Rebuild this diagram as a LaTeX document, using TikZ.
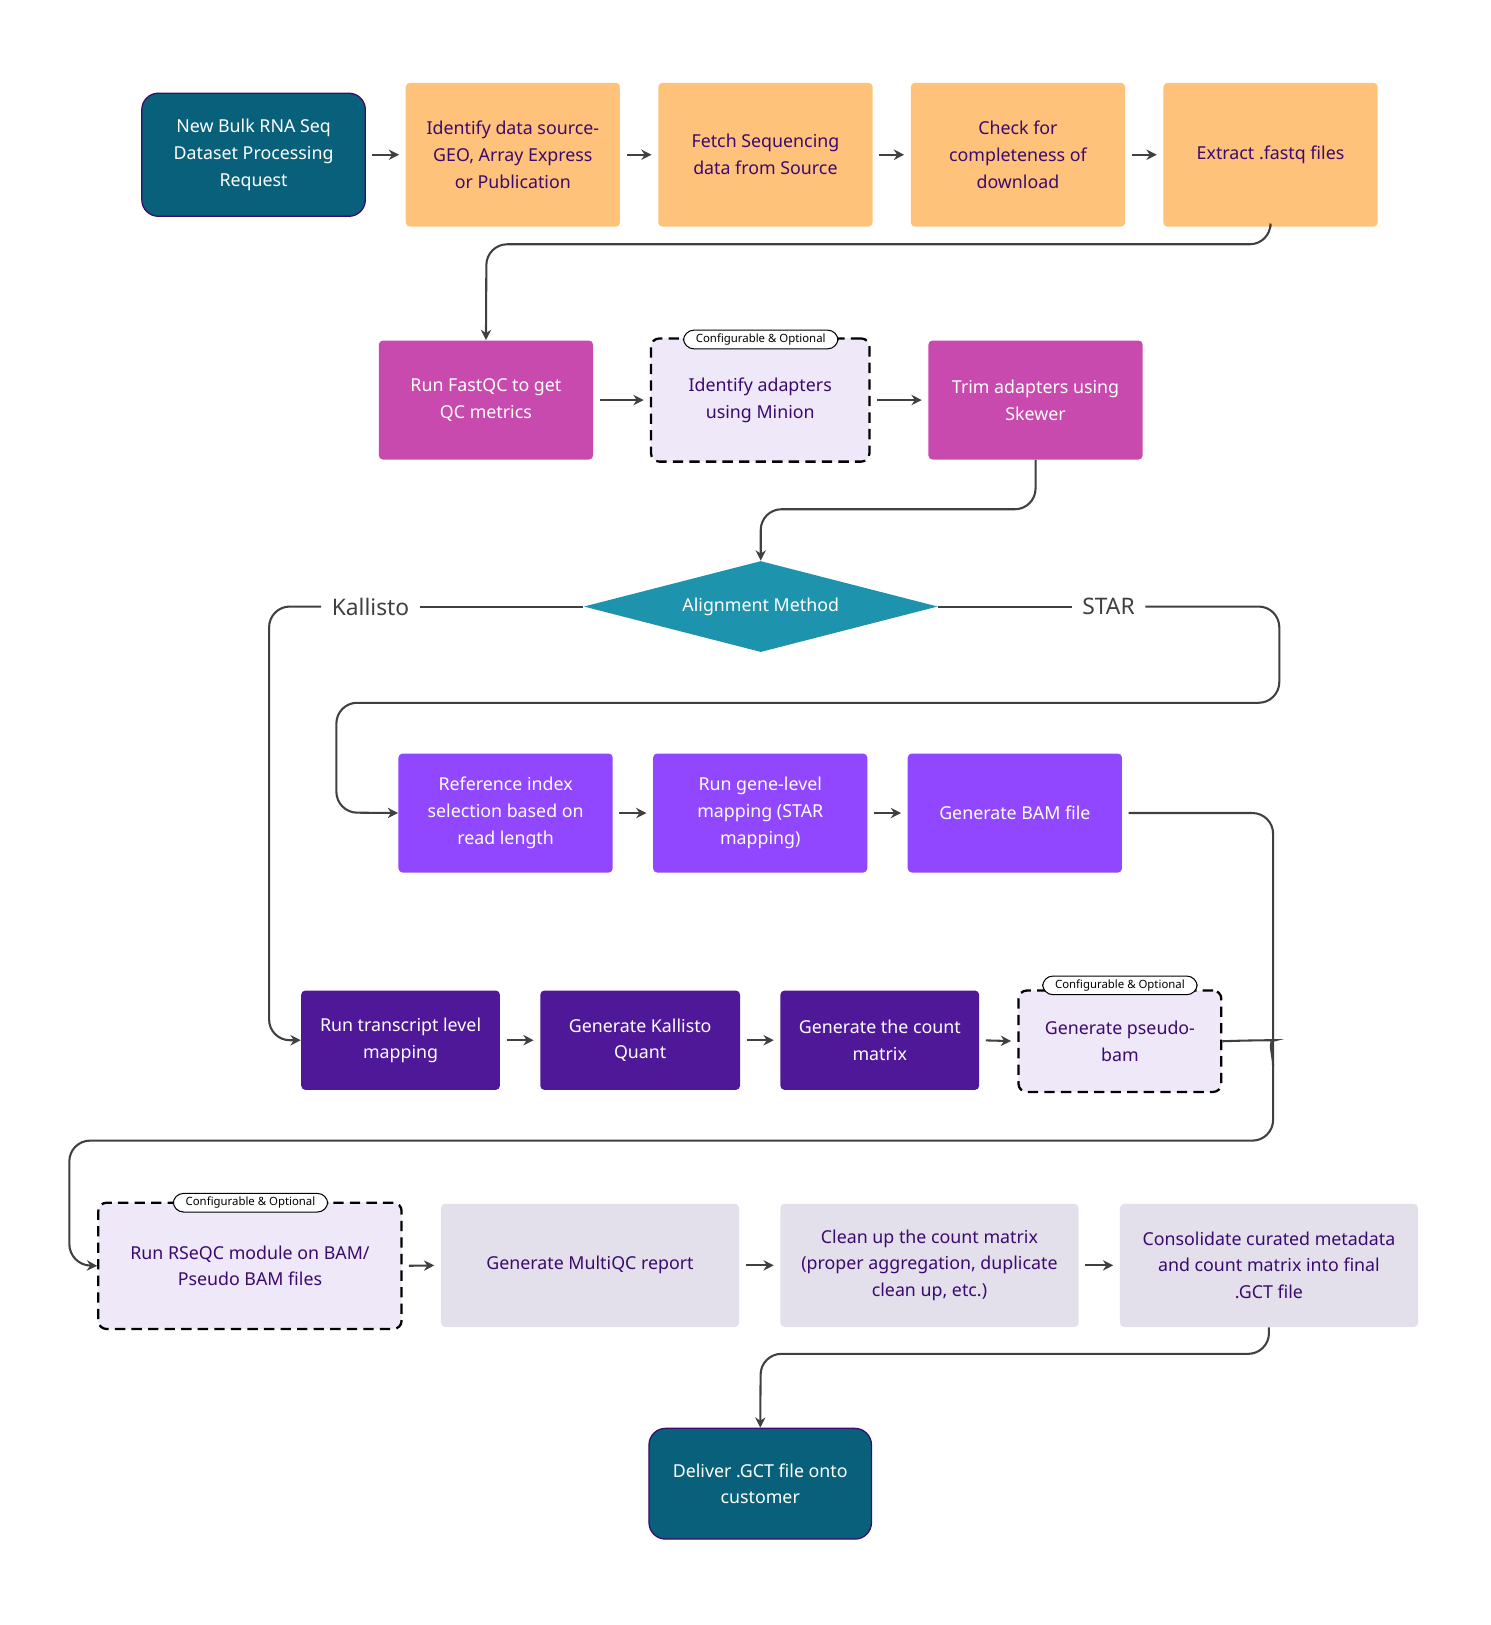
\documentclass[tikz,border=0pt]{standalone}
\usepackage{fontspec}
\setmainfont{Noto Sans}
\usetikzlibrary{shapes.geometric,arrows.meta}
\definecolor{teal1}{HTML}{08607A}
\definecolor{orng}{HTML}{FFC27A}
\definecolor{mag}{HTML}{C84AAE}
\definecolor{lav}{HTML}{EEE8F9}
\definecolor{dia}{HTML}{1E93AD}
\definecolor{vio}{HTML}{9146FF}
\definecolor{dpur}{HTML}{4F1898}
\definecolor{gry}{HTML}{E3E0EC}
\definecolor{txt}{HTML}{3B0A6E}
\definecolor{ln}{HTML}{404040}
\begin{document}
\begin{tikzpicture}[x=0.5pt,y=-0.5pt,
 base/.style={inner sep=0pt,align=center,font=\fontsize{8.6}{13}\selectfont\bfseries,rounded corners=2pt},
 tealb/.style={base,fill=teal1,draw=txt,line width=0.6pt,text=white,rounded corners=8pt},
 org/.style={base,fill=orng,text=txt},
 magb/.style={base,fill=mag,text=white},
 opt/.style={base,fill=lav,draw=black,line width=1.1pt,dash pattern=on 5pt off 3pt,text=txt,rounded corners=4pt},
 viob/.style={base,fill=vio,text=white},
 dpb/.style={base,fill=dpur,text=white},
 grb/.style={base,fill=gry,text=txt},
 tag/.style={draw=black,fill=white,line width=0.5pt,rounded corners=5pt,font=\fontsize{5.5}{6}\selectfont\bfseries,inner xsep=6pt,minimum height=9pt,inner ysep=1pt},
 ar/.style={draw=ln,line width=1pt,-{Stealth[length=5pt,width=5pt]},rounded corners=10pt},
 cn/.style={draw=ln,line width=1pt,rounded corners=10pt},
 lbl/.style={font=\fontsize{11}{13}\selectfont\bfseries,text=ln,fill=white,inner xsep=5pt}]
\useasboundingbox (0,0) rectangle (1440,1570);
\def\bx#1#2#3#4#5#6#7{\node[#1,minimum width=#4*0.5pt-#3*0.5pt,minimum height=#6*0.5pt-#5*0.5pt] (#2) at ({(#3+#4)/2},{(#5+#6)/2}) {#7};}
\bx{tealb}{a}{137}{353}{90}{209}{New Bulk RNA Seq\\Dataset Processing\\Request}
\bx{org}{b}{392}{599}{80}{219}{Identify data source-\\GEO, Array Express\\or Publication}
\bx{org}{c}{636}{843}{80}{219}{Fetch Sequencing\\data from Source}
\bx{org}{d}{880}{1087}{80}{219}{Check for\\completeness of\\download}
\bx{org}{e}{1124}{1331}{80}{219}{Extract .fastq files}
\bx{magb}{f}{366}{573}{329}{444}{Run FastQC to get\\QC metrics}
\bx{opt}{g}{629}{840}{327}{446}{Identify adapters\\using Minion}
\bx{magb}{h}{897}{1104}{329}{444}{Trim adapters using\\Skewer}
\node[diamond,fill=dia,minimum width=171pt,minimum height=44pt,inner sep=0pt,aspect=3.9,text=white,font=\fontsize{8.6}{13}\selectfont\bfseries] (m) at (735,586) {Alignment Method};
\node[lbl] (kl) at (358,586) {Kallisto};
\node[lbl] (st) at (1071,586) {STAR};
\bx{viob}{i}{385}{592}{728}{843}{Reference index\\selection based on\\read length}
\bx{viob}{j}{631}{838}{728}{843}{Run gene-level\\mapping (STAR\\mapping)}
\bx{viob}{k}{877}{1084}{728}{843}{Generate BAM file}
\bx{dpb}{l}{291}{483}{957}{1053}{Run transcript level\\mapping}
\bx{dpb}{n}{522}{715}{957}{1053}{Generate Kallisto\\Quant}
\bx{dpb}{o}{754}{946}{957}{1053}{Generate the count\\matrix}
\bx{opt}{p}{984}{1180}{957}{1055}{Generate pseudo-\\bam}
\bx{opt}{q}{95}{388}{1162}{1284}{Run RSeQC module on BAM/\\Pseudo BAM files}
\bx{grb}{r}{426}{714}{1163}{1282}{Generate MultiQC report}
\bx{grb}{s}{754}{1042}{1163}{1282}{Clean up the count matrix\\(proper aggregation, duplicate\\clean up, etc.)}
\bx{grb}{t}{1082}{1370}{1163}{1282}{Consolidate curated metadata\\and count matrix into final\\.GCT file}
\bx{tealb}{u}{627}{842}{1380}{1487}{Deliver .GCT file onto\\customer}
\node[tag] (tg1) at (735,328) {Configurable \& Optional};
\node[tag] (tg2) at (1082,952) {Configurable \& Optional};
\node[tag] (tg3) at (242,1162) {Configurable \& Optional};
\coordinate (cb) at (1230,1030);
% arrows
\foreach \u/\v in {a/b,b/c,c/d,d/e,f/g,g/h,i/j,j/k,l/n,n/o,o/p,q/r,r/s,s/t}
  \draw[ar,shorten <=3pt,shorten >=3pt] (\u.east) -- (\v.west);
\draw[ar] (e.south) |- (470,236) -- (f.north);
\draw[ar] (h.south) |- (735,492) -- (m.north);
\draw[cn] (m.west) -- (kl.east);
\draw[ar] (kl.west) -| (260,1005) -- (l.west);
\draw[cn] (m.east) -- (st.west);
\draw[ar] (st.east) -| (1236,679) -| (325,785) -- (i.west);
\draw[ar] ([xshift=3pt]k.east) -| (1230,1102) -| (67,1222) -- (q.west);
\draw[cn] (p.east) -- (1212,1005) to[out=0,in=90] (cb);
\draw[ar] (t.south) |- (735,1308) -- (u.north);
\end{tikzpicture}
\end{document}
